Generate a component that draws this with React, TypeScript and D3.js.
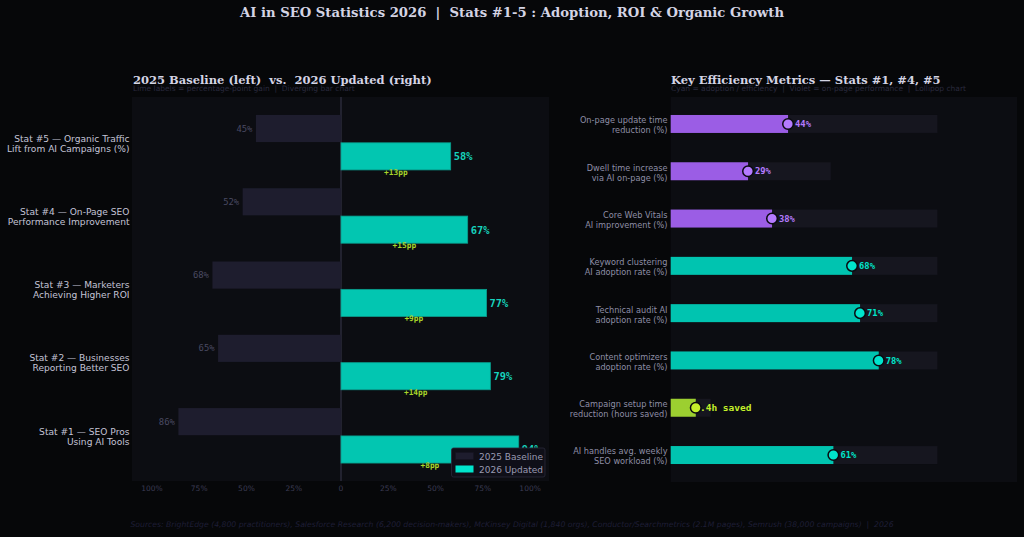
import React from "react";
import * as d3 from "d3";

const stats = [
  "Stat #1 — SEO Pros\nUsing AI Tools",
  "Stat #2 — Businesses\nReporting Better SEO",
  "Stat #3 — Marketers\nAchieving Higher ROI",
  "Stat #4 — On-Page SEO\nPerformance Improvement",
  "Stat #5 — Organic Traffic\nLift from AI Campaigns (%)",
];
const baseline2025 = [86, 65, 68, 52, 45];
const updated2026 = [94, 79, 77, 67, 58];
const xTicks = [-100, -75, -50, -25, 0, 25, 50, 75, 100];

const metricLabels = [
  "On-page update time\nreduction (%)",
  "Dwell time increase\nvia AI on-page (%)",
  "Core Web Vitals\nAI improvement (%)",
  "Keyword clustering\nAI adoption rate (%)",
  "Technical audit AI\nadoption rate (%)",
  "Content optimizers\nadoption rate (%)",
  "Campaign setup time\nreduction (hours saved)",
  "AI handles avg. weekly\nSEO workload (%)",
];
const metricValues = [44, 29, 38, 68, 71, 78, 9.4, 61];
const metricTrackMax = [100, 60, 100, 100, 100, 100, 15, 100];
const metricKinds = ["violet", "violet", "violet", "cyan", "cyan", "cyan", "lime", "cyan"];
const metricText = ["44%", "29%", "38%", "68%", "71%", "78%", "9.4h saved", "61%"];

const BG = "#060709";
const AX = "#0c0d12";
const palette: Record<string, { bar: string; dot: string; text: string }> = {
  violet: { bar: "#9b5de5", dot: "#b57bff", text: "#b57bff" },
  cyan: { bar: "#00c4b0", dot: "#00e5cc", text: "#00e5cc" },
  lime: { bar: "#9ccf30", dot: "#c5f02a", text: "#c5f02a" },
};

const sans = "'DejaVu Sans', sans-serif";
const serif = "'DejaVu Serif', serif";
const mono = "'DejaVu Sans Mono', monospace";

function Multi({ x, y, text, size, fill, anchor, lh }: any) {
  const lines = text.split("\n");
  const n = lines.length;
  return (
    <text x={x} y={y} fontSize={size} fill={fill} textAnchor={anchor} fontFamily={sans}>
      {lines.map((l: string, i: number) => (
        <tspan key={i} x={x} dy={i === 0 ? ((-(n - 1) / 2) * lh + size * 0.35) : lh}>
          {l}
        </tspan>
      ))}
    </text>
  );
}

export default function App() {
  const W = 1024, H = 537;
  const L = { x0: 133, x1: 549, y0: 97, y1: 481 };
  const xL = d3.scaleLinear().domain([-110, 110]).range([L.x0, L.x1]);
  const yL = d3.scaleLinear().domain([-0.62, 4.62]).range([L.y1, L.y0]);
  const bh = yL(0) - yL(0.37);
  const off = 0.19;

  const R = { x0: 670.7, x1: 1017, y0: 97, y1: 482 };
  const xR = d3.scaleLinear().domain([0, 130]).range([R.x0, R.x0 + 130 * 2.667]);
  const yR = d3.scaleLinear().domain([-0.57, 7.57]).range([R.y0, R.y1]);
  const rbh = yR(0.38) - yR(0);

  return (
    <svg width={W} height={H} style={{ position: "absolute", left: 0, top: 0, background: BG }}>
      <rect x={0} y={0} width={W} height={H} fill={BG} />
      <text x={512} y={17} textAnchor="middle" fontFamily={serif} fontWeight="bold" fontSize={13.2} fill="#d4d4e4" style={{ whiteSpace: "pre" }}>
        AI in SEO Statistics 2026  |  Stats #1-5 : Adoption, ROI &amp; Organic Growth
      </text>

      {/* Left panel */}
      <rect x={L.x0 - 1} y={L.y0} width={L.x1 - L.x0 + 1} height={L.y1 - L.y0} fill={AX} />
      <text x={133} y={84} fontFamily={serif} fontWeight="bold" fontSize={11.5} fill="#d4d4e4" style={{ whiteSpace: "pre" }}>
        2025 Baseline (left)  vs.  2026 Updated (right)
      </text>
      <text x={133} y={91} fontFamily={sans} fontSize={7.5} fill="#2a2a3e" style={{ whiteSpace: "pre" }}>
        Lime labels = percentage-point gain  |  Diverging bar chart
      </text>
      <line x1={xL(0)} x2={xL(0)} y1={L.y0} y2={L.y1} stroke="#2a2a3a" strokeWidth={1.5} />
      {stats.map((s, i) => (
        <g key={s}>
          <rect x={xL(-baseline2025[i])} y={yL(i + off + 0.185)} width={xL(0) - xL(-baseline2025[i])} height={bh} fill="#1e1d2e" />
          <text x={xL(-baseline2025[i]) - 3.5} y={yL(i + off) + 3} textAnchor="end" fontFamily={mono} fontSize={8.9} fill="#4a4a62">
            {baseline2025[i]}%
          </text>
          <rect x={xL(0)} y={yL(i - off + 0.185)} width={xL(updated2026[i]) - xL(0)} height={bh} fill="#02c6b1" stroke="#0a9c8c" strokeWidth={0.8} />
          <text x={xL(updated2026[i]) + 3} y={yL(i - off) + 4} fontFamily={mono} fontWeight="bold" fontSize={10.4} fill="#16d2bc">
            {updated2026[i]}%
          </text>
          <text x={xL(updated2026[i] / 2)} y={yL(i - off - 0.185) + 5} textAnchor="middle" fontFamily={mono} fontWeight="bold" fontSize={7.8} fill="#a8d62a">
            +{updated2026[i] - baseline2025[i]}pp
          </text>
          <Multi x={129.5} y={yL(i) + 1} text={s} size={9.1} fill="#c4c4d6" anchor="end" lh={10} />
        </g>
      ))}
      {xTicks.map((t) => (
        <text key={t} x={xL(t)} y={491} textAnchor="middle" fontFamily={sans} fontSize={7.5} fill="#3c3c54">
          {t === 0 ? "0" : `${Math.abs(t)}%`}
        </text>
      ))}
      <g>
        <rect x={451.5} y={448} width={93.5} height={29} rx={2} fill="#0f0f18" stroke="#2a2a3a" strokeWidth={0.8} />
        <rect x={455.5} y={452.5} width={18} height={7} fill="#1e1d2e" stroke="#141420" strokeWidth={0.5} />
        <text x={479} y={459.5} fontFamily={sans} fontSize={9} fill="#9a9ab2">2025 Baseline</text>
        <rect x={455.5} y={465.5} width={18} height={7} fill="#00e5cc" />
        <text x={479} y={472.5} fontFamily={sans} fontSize={9} fill="#9a9ab2">2026 Updated</text>
      </g>

      {/* Right panel */}
      <rect x={R.x0} y={R.y0} width={R.x1 - R.x0} height={R.y1 - R.y0} fill={AX} />
      <text x={671} y={84} fontFamily={serif} fontWeight="bold" fontSize={11.5} fill="#d4d4e4">
        Key Efficiency Metrics — Stats #1, #4, #5
      </text>
      <text x={671} y={91} fontFamily={sans} fontSize={7.5} fill="#2a2a3e" style={{ whiteSpace: "pre" }}>
        Cyan = adoption / efficiency  |  Violet = on-page performance  |  Lollipop chart
      </text>
      {metricLabels.map((m, i) => {
        const c = palette[metricKinds[i]];
        const yc = yR(i);
        const v = metricValues[i];
        const isHours = metricKinds[i] === "lime";
        return (
          <g key={m}>
            <rect x={xR(0)} y={yc - rbh / 2} width={xR(metricTrackMax[i]) - xR(0)} height={rbh} fill="#16161f" />
            <rect x={xR(0)} y={yc - rbh / 2} width={xR(v) - xR(0)} height={rbh} fill={c.bar} />
            <text x={isHours ? xR(v) - 1.5 : xR(v) + 7} y={yc + 3.2} fontFamily={mono} fontWeight="bold" fontSize={isHours ? 9.5 : 8.8} fill={c.text} style={{ whiteSpace: "pre" }}>
              {metricText[i]}
            </text>
            <circle cx={xR(v)} cy={yc} r={5.3} fill={c.dot} stroke="#0a0a10" strokeWidth={1.5} />
            <Multi x={667.5} y={yc + 1.5} text={m} size={8.2} fill="#8e8ea6" anchor="end" lh={10} />
          </g>
        );
      })}

      <text x={512} y={527} textAnchor="middle" fontFamily={sans} fontStyle="italic" fontSize={7.7} fill="#1e1e36" style={{ whiteSpace: "pre" }}>
        Sources: BrightEdge (4,800 practitioners), Salesforce Research (6,200 decision-makers), McKinsey Digital (1,840 orgs), Conductor/Searchmetrics (2.1M pages), Semrush (38,000 campaigns)  |  2026
      </text>
    </svg>
  );
}
